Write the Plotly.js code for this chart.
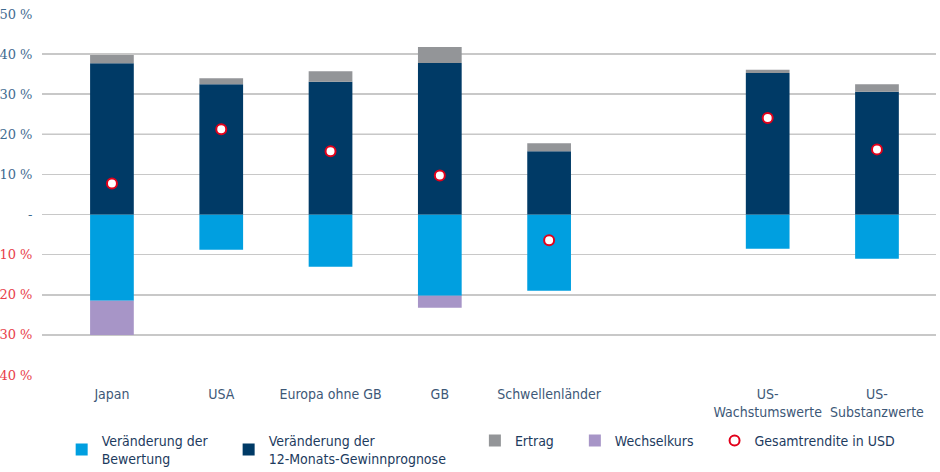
<!DOCTYPE html>
<html>
<head>
<meta charset="utf-8">
<script src="https://cdn.plot.ly/plotly-3.0.1.min.js"></script>
<style>html,body{margin:0;padding:0;background:#fff;}#chart{width:940px;height:472px;}</style>
</head>
<body>
<div id="chart"></div>
<script>
var categories = ['Japan', 'USA', 'Europa ohne GB', 'GB', 'Schwellenländer', ' ', 'US-<br>Wachstumswerte', 'US-<br>Substanzwerte'];
var bewertung = [-21.5, -8.75, -13.0, -20.25, -19.0, null, -8.5, -11.0];
var gewinnprognose = [37.75, 32.5, 33.1, 37.8, 15.8, null, 35.3, 30.6];
var ertrag = [2.0, 1.5, 2.65, 3.95, 2.0, null, 0.8, 1.9];
var wechselkurs = [-8.5, 0, 0, -3.0, 0, null, 0, 0];
var gesamtrendite = [7.75, 21.25, 15.8, 9.75, -6.4, null, 24.1, 16.25];
var tickVals = [50, 40, 30, 20, 10, 0, -10, -20, -30, -40];
var tickLabels = ['50 %', '40 %', '30 %', '20 %', '10 %', '-', '10 %', '20 %', '30 %', '40 %'];

var posColor = '#3f6b91', negColor = '#e8404a';
var tickText = tickVals.map(function (v, i) {
  var c = v < 0 ? negColor : posColor;
  return '<span style="color:' + c + '">' + tickLabels[i] + '</span>';
});

var condensed = 'DejaVu Sans Condensed, Liberation Sans Narrow, Roboto, sans-serif';
function pad(n) { return new Array(n + 1).join('\u00a0'); }
var legendFont = {family: condensed, size: 14, color: '#1d3b5e'};
var w = 0.4;
var traces = [
  {type: 'bar', name: 'Veränderung der' + pad(4) + '<br>Bewertung', x: categories, y: bewertung, width: w,
   marker: {color: '#009fe0', line: {width: 0}}, hoverinfo: 'y'},
  {type: 'bar', name: 'Veränderung der<br>12-Monats-Gewinnprognose' + pad(6), x: categories, y: gewinnprognose, width: w,
   marker: {color: '#003a66', line: {width: 0}}, hoverinfo: 'y'},
  {type: 'bar', name: 'Ertrag' + pad(4), x: categories, y: ertrag, width: w,
   marker: {color: '#939598', line: {width: 0}}, hoverinfo: 'y'},
  {type: 'bar', name: 'Wechselkurs' + pad(4), x: categories, y: wechselkurs, width: w,
   marker: {color: '#a795c7', line: {width: 0}}, hoverinfo: 'y'},
  {type: 'scatter', mode: 'markers', name: 'Gesamtrendite in USD', x: categories, y: gesamtrendite,
   marker: {symbol: 'circle', size: 10, color: '#ffffff', line: {color: '#e2001a', width: 2}}, hoverinfo: 'y'}
];

var layout = {
  width: 940, height: 472,
  margin: {l: 42, r: 4, t: 14, b: 97, autoexpand: false},
  paper_bgcolor: '#ffffff', plot_bgcolor: '#ffffff',
  barmode: 'relative',
  showlegend: true,
  legend: {orientation: 'h', x: 0.022, y: -0.138, xanchor: 'left', yanchor: 'top',
           font: legendFont, traceorder: 'normal', itemclick: false, bgcolor: 'rgba(0,0,0,0)'},
  xaxis: {type: 'category', categoryorder: 'array', categoryarray: categories,
          range: [-0.64, 7.54], showgrid: false, zeroline: false, showline: false,
          ticks: 'outside', ticklen: 6, tickcolor: 'rgba(0,0,0,0)',
          tickfont: {family: condensed, size: 14, color: '#3d5877'}},
  yaxis: {range: [-40, 50], tickmode: 'array', tickvals: tickVals, ticktext: tickText,
          showgrid: true, gridcolor: '#c8c8c8', gridwidth: 1.5, zeroline: false, showline: false,
          ticks: 'outside', ticklen: 6, tickcolor: 'rgba(0,0,0,0)',
          tickfont: {family: 'DejaVu Serif, Liberation Serif, serif', size: 13, color: posColor}},
  shapes: [{type: 'line', xref: 'paper', yref: 'y', x0: 0, x1: 1, y0: 20, y1: 20,
            line: {color: '#8a8a8a', width: 1.2}, layer: 'below'}],
  font: {family: condensed}
};

Plotly.newPlot('chart', traces, layout, {displayModeBar: false, staticPlot: true});
</script>
</body>
</html>
